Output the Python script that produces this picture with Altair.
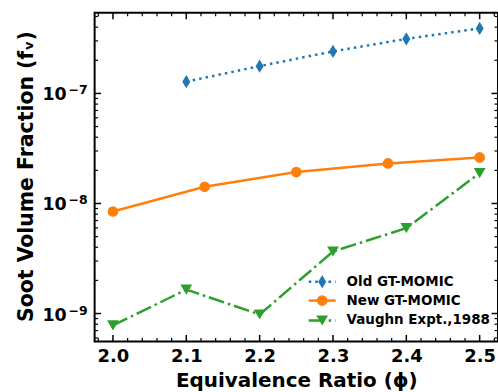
import altair as alt
import pandas as pd

# ---- data ----
old_x = [2.1, 2.2, 2.3, 2.4, 2.5]
old_y = [1.28e-7, 1.77e-7, 2.41e-7, 3.13e-7, 3.90e-7]

new_x = [2.0, 2.125, 2.25, 2.375, 2.5]
new_y = [8.45e-9, 1.42e-8, 1.93e-8, 2.31e-8, 2.62e-8]

vau_x = [2.0, 2.1, 2.2, 2.3, 2.4, 2.5]
vau_y = [7.8e-10, 1.65e-9, 9.8e-10, 3.66e-9, 5.97e-9, 1.89e-8]

series_names = ["Old GT-MOMIC", "New GT-MOMIC", "Vaughn Expt.,1988"]
series_colors = ["#1f77b4", "#ff7f0e", "#2ca02c"]

x_major = [2.0, 2.1, 2.2, 2.3, 2.4, 2.5]
y_major = [1e-9, 1e-8, 1e-7]
y_exp = ["\u22129", "\u22128", "\u22127"]

# ---- layout ----
W, H = 405, 330
X_DOM = [1.975, 2.525]
Y_DOM = [5.58e-10, 5.41e-7]
FONT = "DejaVu Sans"

xs = alt.Scale(domain=X_DOM, nice=False, zero=False)
ys = alt.Scale(type="log", domain=Y_DOM, nice=False)

AX = alt.Axis(
    values=x_major, format=".1f", ticks=False, domain=False, grid=False, tickSize=0,
    labelFont=FONT, labelFontWeight="bold", labelFontSize=18, labelColor="black",
    labelBaseline="alphabetic", labelPadding=20,
    title="Equivalence Ratio (\u03d5)", titleFont=FONT, titleFontWeight="bold",
    titleFontSize=20, titleColor="black", titleBaseline="alphabetic", titleY=45)
AY = alt.Axis(
    values=y_major, labels=False, ticks=False, domain=False, grid=False, tickSize=0,
    title="Soot Volume Fraction (f\u1d65)", titleFont=FONT, titleFontWeight="bold",
    titleFontSize=20.5, titleColor="black", titleX=-58, titleY=164)

x_minor = [round(1.98 + 0.02 * i, 2) for i in range(28)]
x_minor = [v for v in x_minor if all(abs(v - m) > 1e-6 for m in x_major)]
y_minor = [k * 10.0 ** e for e in range(-10, -6) for k in range(2, 10)]
y_minor = [v for v in y_minor if Y_DOM[0] <= v <= Y_DOM[1]]

df_old = pd.DataFrame({"x": old_x, "y": old_y})
df_new = pd.DataFrame({"x": new_x, "y": new_y})
df_vau = pd.DataFrame({"x": vau_x, "y": vau_y})

X = lambda: alt.X("x:Q", scale=xs, axis=AX)
Y = lambda: alt.Y("y:Q", scale=ys, axis=AY)

thin_diamond = "M0,-1L0.6,0L0,1L-0.6,0Z"

def series(df, color, dash, shape, size):
    kw = dict(color=color, strokeWidth=2.5, clip=True)
    if dash:
        kw["strokeDash"] = dash
    line = alt.Chart(df).mark_line(**kw).encode(x=X(), y=Y())
    pts = alt.Chart(df).mark_point(shape=shape, size=size, filled=True, color=color,
                                   opacity=1, strokeWidth=0, clip=True).encode(x=X(), y=Y())
    return [line, pts]

layers = []
layers += series(df_old, series_colors[0], [2.5, 4.1], thin_diamond, 180)
layers += series(df_new, series_colors[1], None, "circle", 115)
layers += series(df_vau, series_colors[2], [16, 4, 2.5, 4], "triangle-down", 140)

# y tick labels as 10 + superscript exponent
df_yl = pd.DataFrame({"y": y_major, "e": y_exp})
ylab10 = alt.Chart(df_yl).mark_text(text="10", font=FONT, fontWeight="bold", fontSize=17.5,
                                    align="right", baseline="alphabetic", dy=7, color="black").encode(
    y=Y(), x=alt.value(-28))
ylabe = alt.Chart(df_yl).mark_text(font=FONT, fontWeight="bold", fontSize=12.5,
                                   align="right", baseline="alphabetic", dy=1, color="black").encode(
    y=Y(), x=alt.value(-7), text="e:N")

# inward ticks
def xticks(vals, ln, sw):
    d = pd.DataFrame({"x": vals})
    b = alt.Chart(d).mark_rule(color="black", strokeWidth=sw).encode(x=X(), y=alt.value(H), y2=alt.value(H - ln))
    t = alt.Chart(d).mark_rule(color="black", strokeWidth=sw).encode(x=X(), y=alt.value(0), y2=alt.value(ln))
    return [b, t]

def yticks(vals, ln, sw):
    d = pd.DataFrame({"y": vals})
    l = alt.Chart(d).mark_rule(color="black", strokeWidth=sw).encode(y=Y(), x=alt.value(0), x2=alt.value(ln))
    r = alt.Chart(d).mark_rule(color="black", strokeWidth=sw).encode(y=Y(), x=alt.value(W), x2=alt.value(W - ln))
    return [l, r]

tick_layers = xticks(x_minor, 3.5, 1.2) + xticks(x_major, 6.5, 1.5) + yticks(y_minor, 3.5, 1.2) + yticks(y_major, 6.5, 1.5)

# manual legend
leg = []
row_y = [270, 289, 309]
shapes = [thin_diamond, "circle", "triangle-down"]
sizes = [180, 115, 140]
dashes = [[2.5, 4.1], None, [16, 4, 2.5, 4]]
one = pd.DataFrame({"a": [0]})
for i, name in enumerate(series_names):
    kw = dict(color=series_colors[i], strokeWidth=2.5)
    if dashes[i]:
        kw["strokeDash"] = dashes[i]
    leg.append(alt.Chart(one).mark_rule(**kw).encode(
        x=alt.value(215), x2=alt.value(242), y=alt.value(row_y[i])))
    leg.append(alt.Chart(one).mark_point(shape=shapes[i], size=sizes[i], filled=True, opacity=1,
                                         strokeWidth=0, color=series_colors[i]).encode(
        x=alt.value(228.5), y=alt.value(row_y[i])))
    leg.append(alt.Chart(one).mark_text(text=name, font=FONT, fontWeight="bold", fontSize=13.5,
                                        align="left", baseline="middle", color="black").encode(
        x=alt.value(253), y=alt.value(row_y[i])))

chart = alt.layer(*layers, ylab10, ylabe, *tick_layers, *leg).properties(
    width=W, height=H,
    autosize=alt.AutoSizeParams(type="none"),
    padding={"left": 95, "top": 12, "right": 0, "bottom": 50},
).configure(background="white").configure_view(stroke="black", strokeWidth=2)

chart.save("out.html", embed_options={"renderer": "svg", "actions": False})
